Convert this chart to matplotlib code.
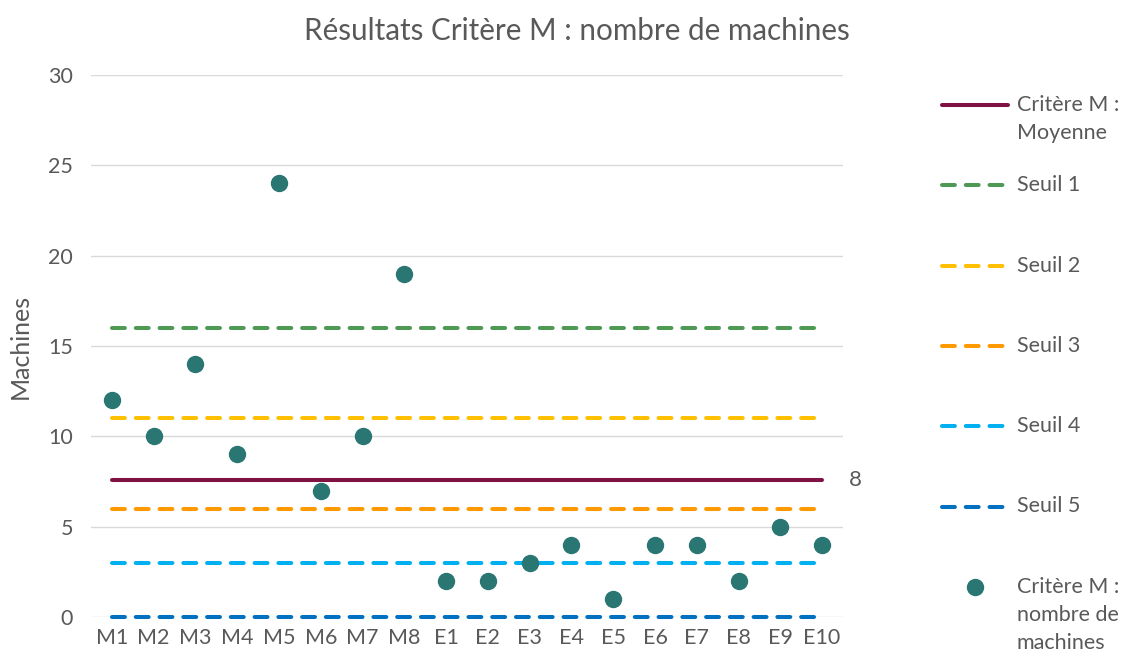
import numpy as np
import matplotlib
matplotlib.use("Agg")
import matplotlib.pyplot as plt
from matplotlib.lines import Line2D

plt.rcParams['font.family'] = ['Lato', 'DejaVu Sans']

# data
categories = ["M1", "M2", "M3", "M4", "M5", "M6", "M7", "M8",
              "E1", "E2", "E3", "E4", "E5", "E6", "E7", "E8", "E9", "E10"]
machines = [12, 10, 14, 9, 24, 7, 10, 19, 2, 2, 3, 4, 1, 4, 4, 2, 5, 4]
seuils = [16, 11, 6, 3, 0]
seuil_labels = ["Seuil 1", "Seuil 2", "Seuil 3", "Seuil 4", "Seuil 5"]
seuil_colors = ["#4E9A55", "#FFC000", "#FF9900", "#00B0F0", "#0070C0"]
mean_color = "#7F1243"
dot_color = "#2A7673"
text_color = "#595959"

moyenne = np.mean(machines)
x = np.arange(len(categories))

W, H = 1126, 657
fs = 15.5
fig = plt.figure(figsize=(W / 100, H / 100), dpi=100)
ax = fig.add_axes([91 / W, 1 - 617 / H, (843 - 91) / W, (617 - 75) / H])

dash = (0, (3.2, 2.7))
lw = 2.9

ax.plot(x, [moyenne] * len(x), color=mean_color, lw=lw, solid_capstyle='round', zorder=3)
for s, c in zip(seuils, seuil_colors):
    ax.plot(x, [s] * len(x), color=c, lw=lw, linestyle=dash, dash_capstyle='round', zorder=3)
ax.plot(x, machines, 'o', color=dot_color, markersize=11.5, zorder=4)

ax.text(x[-1] + 0.65, moyenne, f"{moyenne:.0f}", color=text_color, fontsize=16,
        va='center', ha='left')

ax.set_xlim(-0.5, len(x) - 0.5)
ax.set_ylim(0, 30)
ax.set_yticks(range(0, 31, 5))
ax.set_xticks(x)
ax.set_xticklabels(categories)
ax.tick_params(length=0, labelsize=fs, labelcolor=text_color)
ax.tick_params(axis='y', pad=13)
ax.tick_params(axis='x', pad=8)
ax.grid(axis='y', color='#D9D9D9', lw=1)
ax.set_axisbelow(True)
for sp in ax.spines.values():
    sp.set_visible(False)
for ln in ax.lines:
    ln.set_clip_on(False)

ax.set_ylabel("Machines", fontsize=18, color=text_color, labelpad=12)
fig.text(0.5 * (305 + 848) / W, 1 - 31 / H, "Résultats Critère M : nombre de machines",
         ha='center', va='center', fontsize=21.3, color=text_color)

# legend built by hand
leg_items = [("line", mean_color, "Critère M :\nMoyenne")]
leg_items += [("dash", c, l) for c, l in zip(seuil_colors, seuil_labels)]
leg_items += [("dot", dot_color, "Critère M :\nnombre de\nmachines")]
for i, (kind, c, label) in enumerate(leg_items):
    yy = 1 - (105 + i * 80.3) / H
    x0, x1 = 942 / W, 1008 / W
    if kind == "line":
        fig.add_artist(Line2D([x0, x1], [yy, yy], color=c, lw=lw, solid_capstyle='round'))
    elif kind == "dash":
        fig.add_artist(Line2D([x0, x1], [yy, yy], color=c, lw=lw, linestyle=dash,
                              dash_capstyle='round'))
    else:
        fig.add_artist(Line2D([(x0 + x1) / 2], [yy], marker='o', color=c, markersize=11.5))
    fig.text(1017 / W, yy + 10 / H, label, ha='left', va='top', fontsize=fs,
             color=text_color, linespacing=1.5)

fig.savefig("out.png", dpi=100)
